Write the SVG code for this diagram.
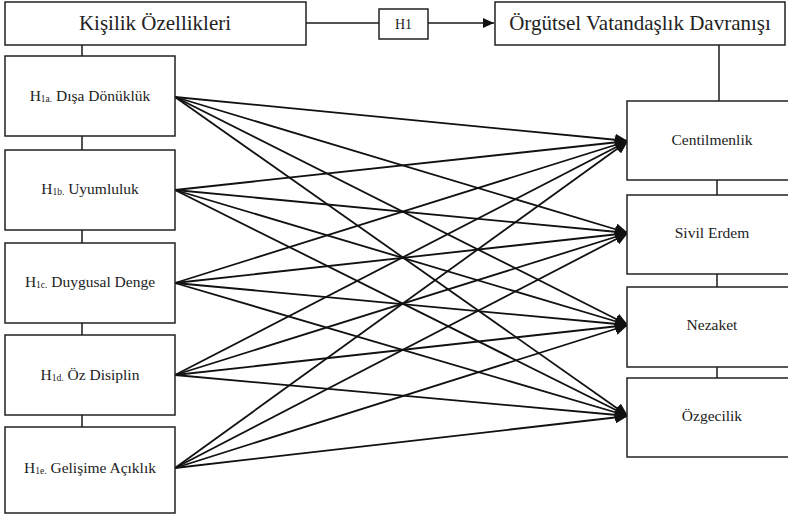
<svg xmlns="http://www.w3.org/2000/svg" width="788" height="516" viewBox="0 0 788 516" font-family="Liberation Serif, serif">
<style>
.box{fill:#fff;stroke:#222;stroke-width:1.5}
.ln{stroke:#1a1a1a;stroke-width:1.5;fill:none}
.ar{stroke:#111;stroke-width:1.8;fill:none;marker-end:url(#ah)}
.tx{font-family:'Liberation Serif',serif;fill:#222}
.t{font-size:21px;text-anchor:middle}
.m{font-size:15.5px;text-anchor:middle}
.s{font-size:9.5px}
</style>
<defs>
<marker id="ah" markerUnits="userSpaceOnUse" markerWidth="14" markerHeight="12" refX="13" refY="6" orient="auto">
<path d="M0,0 L13,6 L0,12 z" fill="#111"/>
</marker>
<marker id="ah2" markerUnits="userSpaceOnUse" markerWidth="12" markerHeight="10" refX="11" refY="5" orient="auto">
<path d="M0,0 L11,5 L0,10 z" fill="#111"/>
</marker>
</defs>
<g id="connectors">
<line class="ln" x1="306" y1="23" x2="379" y2="23"/>
<line class="ln" x1="428" y1="23" x2="494" y2="23" marker-end="url(#ah2)"/>
<line class="ln" x1="82" y1="45" x2="82" y2="56"/>
<line class="ln" x1="82" y1="136" x2="82" y2="150"/>
<line class="ln" x1="82" y1="230" x2="82" y2="243"/>
<line class="ln" x1="82" y1="323" x2="82" y2="335"/>
<line class="ln" x1="82" y1="415" x2="82" y2="427"/>
<line class="ln" x1="719" y1="45" x2="719" y2="101"/>
<line class="ln" x1="717" y1="180" x2="717" y2="195"/>
<line class="ln" x1="717" y1="274" x2="717" y2="287"/>
<line class="ln" x1="717" y1="367" x2="717" y2="378"/>
<line class="ar" x1="175" y1="97" x2="628" y2="141"/>
<line class="ar" x1="175" y1="97" x2="628" y2="233"/>
<line class="ar" x1="175" y1="97" x2="628" y2="325"/>
<line class="ar" x1="175" y1="97" x2="628" y2="416"/>
<line class="ar" x1="175" y1="190" x2="628" y2="141"/>
<line class="ar" x1="175" y1="190" x2="628" y2="233"/>
<line class="ar" x1="175" y1="190" x2="628" y2="325"/>
<line class="ar" x1="175" y1="190" x2="628" y2="416"/>
<line class="ar" x1="175" y1="283" x2="628" y2="141"/>
<line class="ar" x1="175" y1="283" x2="628" y2="233"/>
<line class="ar" x1="175" y1="283" x2="628" y2="325"/>
<line class="ar" x1="175" y1="283" x2="628" y2="416"/>
<line class="ar" x1="175" y1="375" x2="628" y2="141"/>
<line class="ar" x1="175" y1="375" x2="628" y2="233"/>
<line class="ar" x1="175" y1="375" x2="628" y2="325"/>
<line class="ar" x1="175" y1="375" x2="628" y2="416"/>
<line class="ar" x1="175" y1="468" x2="628" y2="141"/>
<line class="ar" x1="175" y1="468" x2="628" y2="233"/>
<line class="ar" x1="175" y1="468" x2="628" y2="325"/>
<line class="ar" x1="175" y1="468" x2="628" y2="416"/>
</g>
<g id="kisilik">
<rect class="box" x="5" y="2" width="301" height="43"/>
<text class="tx t" x="155" y="30">Kişilik Özellikleri</text>
</g>
<g id="h1">
<rect class="box" x="379" y="9" width="49" height="30"/>
<text class="tx" x="403.5" y="29" font-size="14" text-anchor="middle">H1</text>
</g>
<g id="ovd">
<rect class="box" x="495" y="2" width="290" height="43"/>
<text class="tx t" x="640" y="30">Örgütsel Vatandaşlık Davranışı</text>
</g>
<g id="h1a">
<rect class="box" x="5" y="56" width="170" height="80"/>
<text class="tx m" x="90" y="101">H<tspan class="s" dy="1">1a.</tspan><tspan dy="-1"> Dışa Dönüklük</tspan></text>
</g>
<g id="h1b">
<rect class="box" x="5" y="150" width="170" height="80"/>
<text class="tx m" x="90" y="194">H<tspan class="s" dy="1">1b.</tspan><tspan dy="-1"> Uyumluluk</tspan></text>
</g>
<g id="h1c">
<rect class="box" x="5" y="243" width="170" height="80"/>
<text class="tx m" x="90" y="287">H<tspan class="s" dy="1">1c.</tspan><tspan dy="-1"> Duygusal Denge</tspan></text>
</g>
<g id="h1d">
<rect class="box" x="5" y="335" width="170" height="80"/>
<text class="tx m" x="90" y="380">H<tspan class="s" dy="1">1d.</tspan><tspan dy="-1"> Öz Disiplin</tspan></text>
</g>
<g id="h1e">
<rect class="box" x="5" y="427" width="170" height="86"/>
<text class="tx m" x="90" y="473">H<tspan class="s" dy="1">1e.</tspan><tspan dy="-1"> Gelişime Açıklık</tspan></text>
</g>
<g id="centilmenlik">
<rect class="box" x="627" y="101" width="175" height="79"/>
<text class="tx m" x="712" y="145">Centilmenlik</text>
</g>
<g id="sivil">
<rect class="box" x="627" y="195" width="175" height="79"/>
<text class="tx m" x="712" y="238">Sivil Erdem</text>
</g>
<g id="nezaket">
<rect class="box" x="627" y="287" width="175" height="80"/>
<text class="tx m" x="712" y="330">Nezaket</text>
</g>
<g id="ozgecilik">
<rect class="box" x="627" y="378" width="175" height="79"/>
<text class="tx m" x="712" y="421">Özgecilik</text>
</g>
</svg>
